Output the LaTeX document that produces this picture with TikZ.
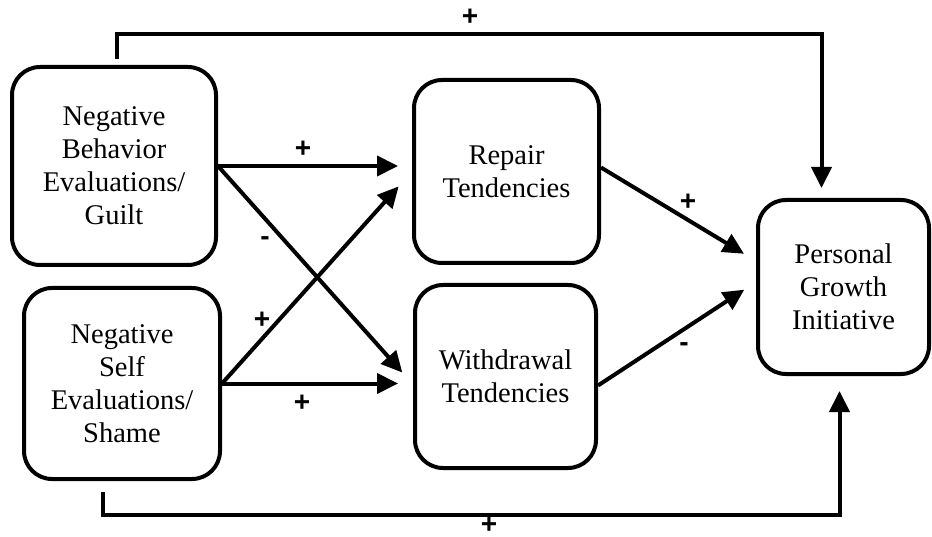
\documentclass[tikz,border=0pt]{standalone}
\usepackage{fontspec}
\setmainfont{Liberation Serif}
\newfontfamily\signfont{Liberation Sans}
\usetikzlibrary{arrows.meta,calc}

\begin{document}
\begin{tikzpicture}[x=1pt,y=-1pt, line width=4pt, box/.style={
            draw,
            rounded corners=28pt,
            align=center,
            inner sep=0pt,
            font=\fontsize{28.5}{33}\selectfont
          },
          link/.style={-{Triangle[length=21pt,width=20pt]}, line width=4pt},
          signlabel/.style={font=\signfont\bfseries\fontsize{28}{28}\selectfont, inner sep=0pt}]
    \useasboundingbox (0,0) rectangle (932,537);

    % Boxes
    \node[box, minimum width=204pt, minimum height=198pt] (guilt) at (114,166) {Negative\\Behavior\\Evaluations/\\Guilt};
    \node[box, minimum width=196pt, minimum height=191pt] (shame) at (122,383.5) {Negative\\Self\\Evaluations/\\Shame};
    \node[box, minimum width=185pt, minimum height=183pt] (repair) at (506.5,171.5) {Repair\\Tendencies};
    \node[box, minimum width=181pt, minimum height=183pt] (withdraw) at (505.5,376.5) {Withdrawal\\Tendencies};
    \node[box, minimum width=171pt, minimum height=174pt] (growth) at (843.5,287) {Personal\\Growth\\Initiative};

    % Crossing paths
    \draw[link, shorten >=14pt] (guilt.east) -- (guilt.east -| repair.west);
    \draw[link, shorten >=16pt] (guilt.east) -- ($(withdraw.west)+(0,8)$);
    \draw[link, shorten >=20pt] (shame.east) -- (repair.west);
    \draw[link, shorten >=15pt] (shame.east) -- (shame.east -| withdraw.west);

    % Into growth
    \draw[link, shorten >=14pt] ($(repair.east)+(0,-4)$) -- ($(growth.west)+(0,-26)$);
    \draw[link, shorten >=14pt] ($(withdraw.east)+(0,9)$) -- ($(growth.west)+(0,-5)$);

    % Direct paths
    \draw[link, shorten <=6pt, shorten >=10pt] ($(guilt.north)+(3,0)$) -- ++(0,-31) -| ($(growth.north)+(-22,0)$);
    \draw[link, shorten <=11pt, shorten >=15pt] ($(shame.south)+(-19,0)$) -- ++(0,34) -| ($(growth.south)+(-4,0)$);

    % Signs
    \node[signlabel] (sTop) at (470,17) {+};
    \node[signlabel] (sGR) at (303,149) {+};
    \node[signlabel] (sGW) at (265,241) {-};
    \node[signlabel] (sSR) at (262,320) {+};
    \node[signlabel] (sSW) at (302,403) {+};
    \node[signlabel] (sRG) at (688,202) {+};
    \node[signlabel] (sWG) at (684,347) {-};
    \node[signlabel] (sBot) at (489,525) {+};

\end{tikzpicture}
\end{document}
